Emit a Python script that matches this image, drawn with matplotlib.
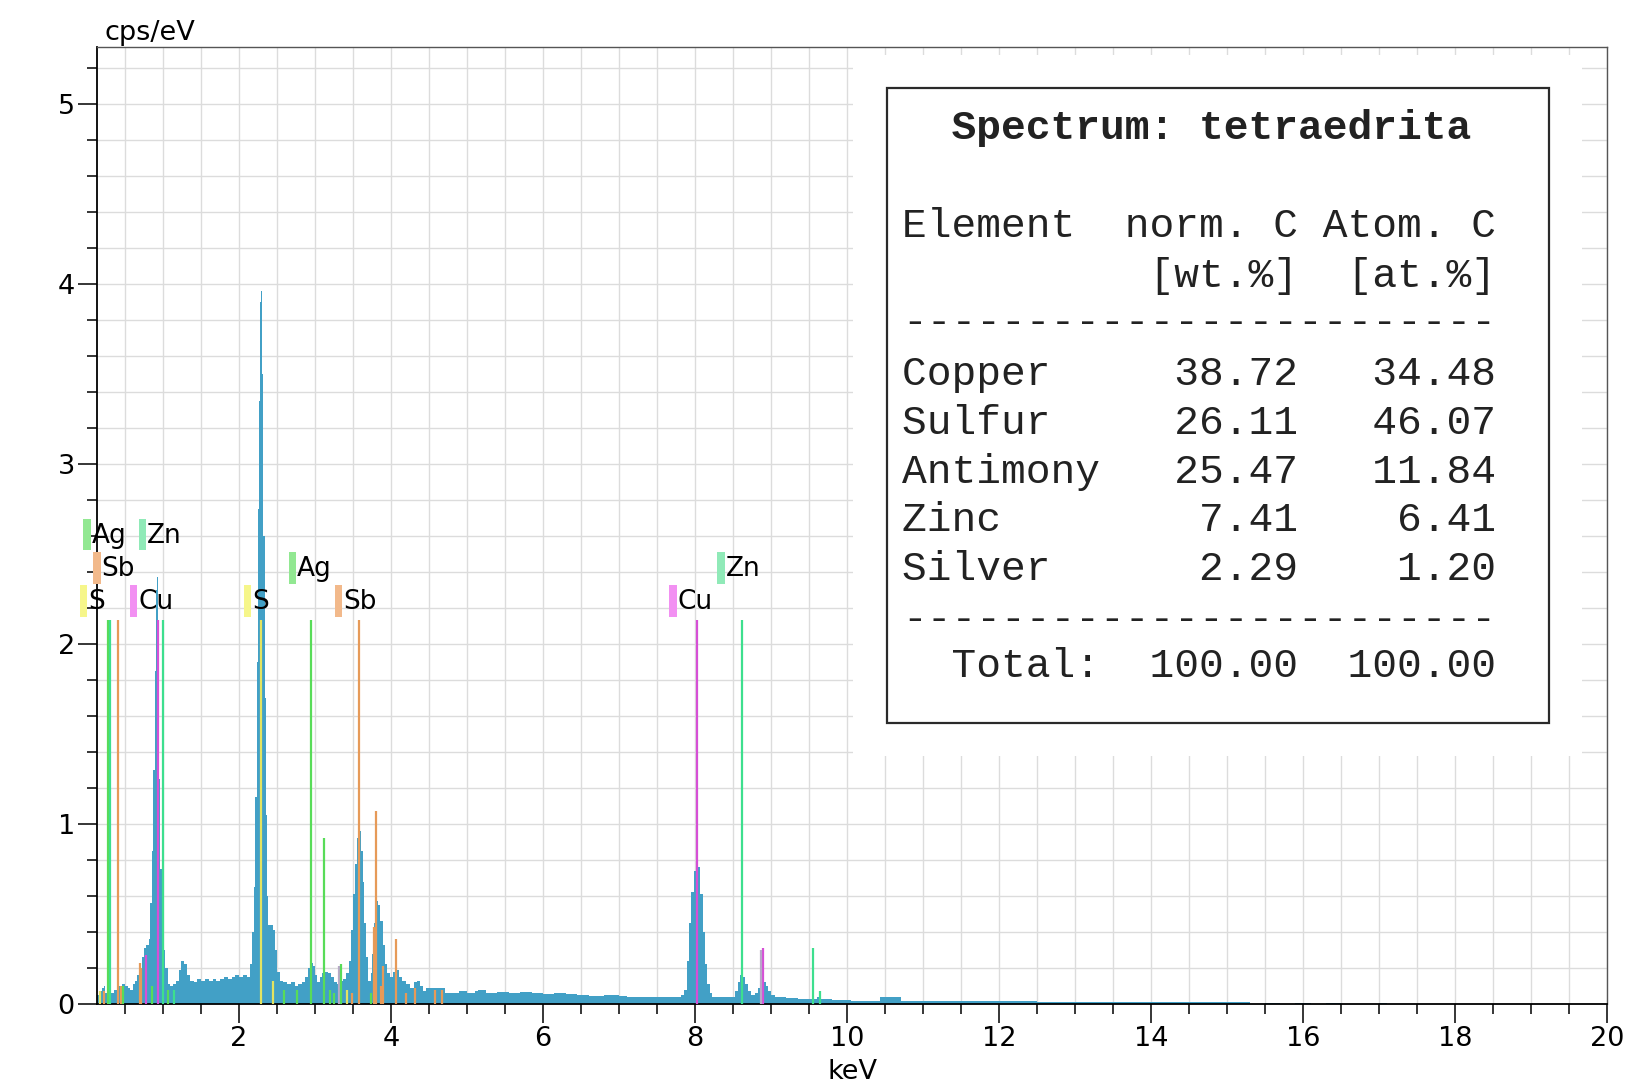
import matplotlib
matplotlib.use("Agg")
import matplotlib.pyplot as plt
from matplotlib.patches import Rectangle
from matplotlib.ticker import MultipleLocator

# --- spectrum (keV, cps/eV), drawn as steps ---
energy = [0.13, 0.16, 0.19, 0.22, 0.24, 0.27, 0.31, 0.35, 0.39, 0.42, 0.46, 0.50,
          0.54, 0.57, 0.60, 0.63, 0.66, 0.69, 0.72, 0.75, 0.78, 0.81, 0.83, 0.85,
          0.87, 0.89, 0.905, 0.92, 0.935, 0.95, 0.965, 0.98, 1.00, 1.03, 1.06, 1.09,
          1.13, 1.17, 1.21, 1.24, 1.28, 1.31, 1.35, 1.40, 1.45, 1.50, 1.55, 1.60,
          1.65, 1.70, 1.75, 1.80, 1.85, 1.90, 1.95, 2.00, 2.05, 2.10, 2.14, 2.17,
          2.19, 2.21, 2.23, 2.245, 2.26, 2.275, 2.29, 2.305, 2.32, 2.335, 2.35, 2.365,
          2.38, 2.41, 2.44, 2.47, 2.50, 2.54, 2.58, 2.63, 2.68, 2.73, 2.78, 2.83,
          2.87, 2.91, 2.94, 2.97, 3.00, 3.03, 3.06, 3.09, 3.13, 3.17, 3.21, 3.25,
          3.29, 3.33, 3.37, 3.41, 3.44, 3.47, 3.50, 3.53, 3.555, 3.58, 3.605, 3.63,
          3.65, 3.67, 3.70, 3.73, 3.75, 3.78, 3.80, 3.83, 3.86, 3.89, 3.92, 3.95,
          3.99, 4.03, 4.07, 4.11, 4.15, 4.20, 4.25, 4.30, 4.34, 4.38, 4.42, 4.46,
          4.55, 4.65, 4.71, 4.80, 4.90, 5.00, 5.10, 5.15, 5.25, 5.40, 5.55, 5.70,
          5.85, 6.00, 6.15, 6.30, 6.45, 6.60, 6.80, 7.00, 7.10, 7.30, 7.50, 7.70,
          7.82, 7.86, 7.89, 7.92, 7.95, 7.98, 8.01, 8.04, 8.07, 8.10, 8.13, 8.16,
          8.19, 8.22, 8.35, 8.45, 8.52, 8.56, 8.59, 8.63, 8.66, 8.70, 8.74, 8.79,
          8.83, 8.86, 8.90, 8.93, 8.96, 9.00, 9.05, 9.20, 9.35, 9.50, 9.60, 9.66,
          9.80, 10.05, 10.44, 10.71, 11.0, 11.5, 12.0, 12.5, 12.9, 13.5, 14.0, 14.5,
          15.0, 15.3, 15.5, 15.7, 15.9, 16.1, 16.3, 16.5, 17.0, 17.1, 20.0]
counts = [0.05, 0.07, 0.09, 0.10, 0.06, 0.05, 0.06, 0.08, 0.07, 0.10, 0.11, 0.10,
          0.09, 0.08, 0.11, 0.13, 0.16, 0.19, 0.26, 0.31, 0.33, 0.36, 0.56, 0.85,
          1.30, 1.85, 2.30, 2.37, 1.85, 1.25, 0.75, 0.45, 0.30, 0.20, 0.11, 0.10,
          0.11, 0.13, 0.19, 0.24, 0.22, 0.16, 0.13, 0.12, 0.14, 0.13, 0.14, 0.13,
          0.14, 0.13, 0.14, 0.15, 0.14, 0.15, 0.16, 0.15, 0.16, 0.15, 0.22, 0.40,
          0.65, 1.15, 1.90, 2.75, 3.35, 3.90, 3.96, 3.50, 2.60, 1.70, 1.05, 0.60,
          0.44, 0.44, 0.41, 0.30, 0.18, 0.13, 0.12, 0.11, 0.12, 0.10, 0.11, 0.12,
          0.15, 0.20, 0.23, 0.21, 0.16, 0.12, 0.15, 0.17, 0.18, 0.17, 0.15, 0.12,
          0.11, 0.13, 0.14, 0.17, 0.24, 0.41, 0.61, 0.78, 0.92, 0.96, 0.85, 0.68,
          0.45, 0.26, 0.13, 0.17, 0.28, 0.45, 0.57, 0.55, 0.46, 0.33, 0.22, 0.17,
          0.15, 0.18, 0.19, 0.15, 0.13, 0.11, 0.09, 0.12, 0.13, 0.10, 0.07, 0.09,
          0.09, 0.09, 0.06, 0.06, 0.07, 0.06, 0.07, 0.075, 0.06, 0.065, 0.06, 0.065,
          0.06, 0.055, 0.06, 0.055, 0.05, 0.045, 0.05, 0.045, 0.038, 0.04, 0.037, 0.038,
          0.05, 0.08, 0.24, 0.45, 0.62, 0.74, 0.79, 0.76, 0.61, 0.40, 0.22, 0.11,
          0.06, 0.04, 0.038, 0.04, 0.07, 0.12, 0.16, 0.15, 0.11, 0.07, 0.05, 0.06,
          0.09, 0.12, 0.12, 0.10, 0.07, 0.05, 0.04, 0.035, 0.03, 0.028, 0.04, 0.025,
          0.022, 0.017, 0.037, 0.017, 0.015, 0.014, 0.015, 0.013, 0.011, 0.010, 0.011, 0.010,
          0.009, 0.0, 0.008, 0.0, 0.008, 0.0, 0.008, 0.0, 0.007, 0.0, 0.0]

# --- element marker lines (keV, cps/eV, element) ---
line_energy = [0.27, 0.295, 0.40, 0.93, 1.00, 2.29, 2.94, 3.12, 3.58, 3.80, 4.07,
               8.03, 8.62, 8.90, 8.87, 9.55, 9.64,
               0.17, 0.22, 0.44, 0.47, 0.70, 0.71, 0.77, 0.85, 1.07, 1.14, 2.44,
               2.59, 2.76, 3.20, 3.25, 3.31, 3.34, 3.42, 3.48, 3.73, 3.78, 3.87,
               3.90, 4.19, 4.32, 4.58, 4.67]
line_height = [2.13, 2.13, 2.13, 2.13, 2.13, 2.13, 2.13, 0.92, 2.13, 1.07, 0.36,
               2.13, 2.13, 0.31, 0.30, 0.31, 0.07,
               0.07, 0.07, 0.10, 0.10, 0.23, 0.20, 0.27, 0.10, 0.08, 0.08, 0.13,
               0.08, 0.08, 0.08, 0.06, 0.21, 0.22, 0.08, 0.06, 0.06, 0.43, 0.10,
               0.21, 0.06, 0.09, 0.08, 0.08]
line_element = ["Ag", "Zn", "Sb", "Cu", "Zn", "S", "Ag", "Ag", "Sb", "Sb", "Sb",
                "Cu", "Zn", "Cu", "grey", "Zn", "Zn",
                "S", "Sb", "Sb", "Ag", "Sb", "Sb", "Cu", "Ag", "Ag", "Zn", "S",
                "Ag", "Ag", "Ag", "Ag", "grey", "Ag", "S", "Sb", "Ag", "Sb", "Sb",
                "Sb", "Sb", "Sb", "Sb", "Sb"]

# --- element labels (text, keV of marker, row) ---
label_text = ["Ag", "Zn", "Sb", "S", "Cu", "S", "Ag", "Sb", "Cu", "Zn"]
label_kev = [-0.05, 0.68, 0.08, -0.10, 0.56, 2.06, 2.65, 3.26, 7.66, 8.29]
label_row = [2, 2, 1, 0, 0, 0, 1, 0, 0, 1]

# --- quantification table ---
table_elements = ["Copper", "Sulfur", "Antimony", "Zinc", "Silver"]
table_wt = [38.72, 26.11, 25.47, 7.41, 2.29]
table_at = [34.48, 46.07, 11.84, 6.41, 1.20]
spectrum_name = "tetraedrita"

line_colors = {"S": "#e4e460", "Cu": "#d64fd6", "Sb": "#e69a58", "Ag": "#58dc58",
               "Zn": "#3ddf8e", "grey": "#b8a8c8"}
marker_colors = {"S": "#f6f68a", "Cu": "#f290f2", "Sb": "#f2b98b", "Ag": "#92e892",
                 "Zn": "#90eab8"}

W, H = 1635, 1089
fig = plt.figure(figsize=(W / 100, H / 100), dpi=100)
ax = fig.add_axes([97 / W, 1 - 1004 / H, 1510 / W, 957 / H])

ax.set_xlim(0.13, 20)
ax.set_ylim(0, 5.315)
ax.xaxis.set_major_locator(MultipleLocator(2))
ax.xaxis.set_minor_locator(MultipleLocator(0.5))
ax.yaxis.set_major_locator(MultipleLocator(1))
ax.yaxis.set_minor_locator(MultipleLocator(0.2))
ax.tick_params(which="major", direction="out", length=14, width=1.1, labelsize=19.5,
               pad=2, color="black")
ax.tick_params(which="minor", direction="out", length=7, width=1.1, color="black")
ax.set_axisbelow(True)
ax.grid(which="both", color="#dcdcdc", lw=1)
for s in ["left", "bottom"]:
    ax.spines[s].set_linewidth(1.3)
    ax.spines[s].set_color("black")
for s in ["top", "right"]:
    ax.spines[s].set_linewidth(1.0)
    ax.spines[s].set_color("#555555")

# spectrum
ax.fill_between(energy, counts, step="post", color="#42a0c6", lw=0, zorder=2)

# element lines
for e, h, el in zip(line_energy, line_height, line_element):
    ax.plot([e, e], [0, h], color=line_colors[el], lw=1.6, zorder=3,
            solid_capstyle="butt")

# element labels
row_bottom = [2.15, 2.335, 2.52]
for t, k, r in zip(label_text, label_kev, label_row):
    ax.add_patch(Rectangle((k, row_bottom[r]), 0.1, 0.175, color=marker_colors[t],
                           lw=0, clip_on=False, zorder=4))
    ax.text(k + 0.11, row_bottom[r] + 0.08, t, fontsize=19, va="center", ha="left",
            zorder=5, clip_on=False)

# axis titles
fig.text(104 / W, 1 - 40 / H, "cps/eV", fontsize=19.5, ha="left", va="baseline")
fig.text(852 / W, 1 - 1072 / H, "keV", fontsize=19.5, ha="center", va="center")

# white panel behind the result box
ax.add_patch(Rectangle((853 / W, 1 - 756 / H), 729 / W, 701 / H, transform=fig.transFigure,
                       facecolor="white", edgecolor="none", zorder=1, clip_on=False))
ax.add_patch(Rectangle((887 / W, 1 - 723 / H), 662 / W, 635 / H, transform=fig.transFigure,
                       facecolor="white", edgecolor="#2a2a2a", lw=1.6, zorder=6,
                       clip_on=False))

mono = "Liberation Mono"
fs = 29.7
tx = 902 / W
lines = [
    ("  Spectrum: " + spectrum_name, 139, "bold"),
    ("Element  norm. C Atom. C", 237, "normal"),
    ("          [wt.%]  [at.%]", 287, "normal"),
    ("-" * 24, 333, "normal"),
]
base = 385
for i, (name, wt, at) in enumerate(zip(table_elements, table_wt, table_at)):
    lines.append((f"{name:<8}{wt:>8.2f}{at:>8.2f}", base + i * 48.8, "normal"))
lines.append(("-" * 24, 630, "normal"))
lines.append((f"{'Total:':>8}{sum(table_wt):>8.2f}{sum(table_at):>8.2f}", 677, "normal"))

for txt, py, wgt in lines:
    fig.text(tx, 1 - py / H, txt, fontsize=fs, family=mono, weight=wgt, ha="left",
             va="baseline", color="#222222", zorder=7)

fig.savefig("out.png", dpi=100)
